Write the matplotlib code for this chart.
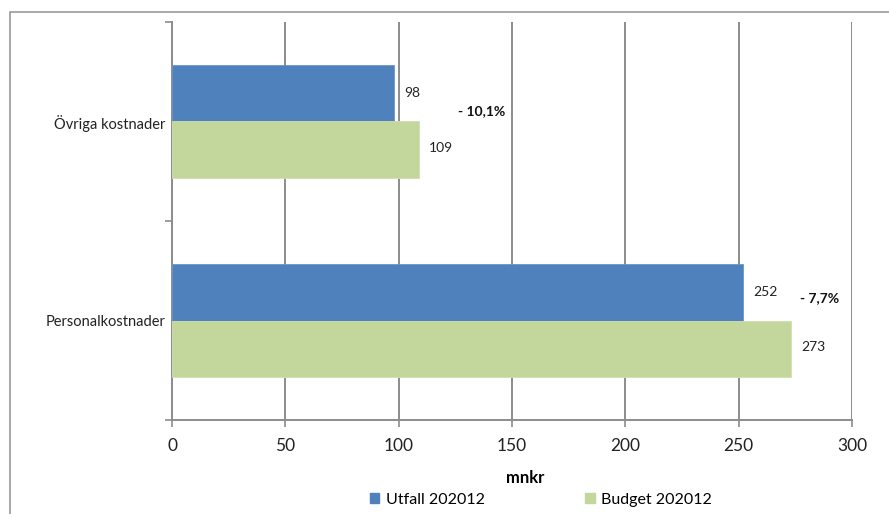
import matplotlib
matplotlib.use("Agg")
import matplotlib.pyplot as plt
from matplotlib.patches import Rectangle, Patch

plt.rcParams["font.family"] = ["Lato", "DejaVu Sans"]

# data
categories = ["Personalkostnader", "Övriga kostnader"]
utfall = [252, 98]
budget = [273, 109]
diff_labels = ["- 7,7%", "- 10,1%"]
series_names = ["Utfall 202012", "Budget 202012"]
blue, green = "#4F81BD", "#C3D69B"
grid_c = "#8C8C8C"

fig = plt.figure(figsize=(8.89, 5.14), dpi=100)
# outer chart border (cut off at right/bottom like the screenshot)
fig.patches.append(Rectangle((10 / 889, -0.1), 1.2, 1 - 12 / 514 + 0.1, transform=fig.transFigure,
                             fill=False, ec="#9A9A9A", lw=1.2))

ax = fig.add_axes([172 / 889, 1 - 420 / 514, 680 / 889, 398 / 514])
y = list(range(len(categories)))
h = 0.286
ax.barh([v + h / 2 for v in y], utfall, height=h, color=blue, ec="#6A95C9", lw=0.6, zorder=3)
ax.barh([v - h / 2 for v in y], budget, height=h, color=green, ec="#D0DFB0", lw=0.6, zorder=3)

for i in y:
    ax.text(utfall[i] + 4.5, i + h / 2, str(utfall[i]), va="center", ha="left", fontsize=10, color="#222")
    ax.text(budget[i] + 4.5, i - h / 2 + 0.01, str(budget[i]), va="center", ha="left", fontsize=10, color="#222")
# percent change labels
ax.text(126, 1 + 0.05, diff_labels[1], fontsize=10, fontweight="bold", va="center", ha="left", color="#111")
ax.text(277, 0 + 0.115, diff_labels[0], fontsize=10, fontweight="bold", va="center", ha="left", color="#111")

ax.set_xlim(0, 300)
ax.set_ylim(-0.5, len(categories) - 0.5)
ax.set_xticks(range(0, 301, 50))
ax.tick_params(axis="x", labelsize=12.5, length=5, color=grid_c, width=1.2, pad=8, labelcolor="#222")
ax.set_yticks(y)
ax.set_yticklabels(categories, fontsize=10.5, color="#222")
ax.set_yticks([-0.5, 0.5, 1.5], minor=True)
ax.tick_params(axis="y", which="major", length=0, pad=5)
ax.tick_params(axis="y", which="minor", length=5, color=grid_c, width=1.2)
ax.grid(axis="x", color=grid_c, lw=1.4, zorder=0)
for s in ["top", "right"]:
    ax.spines[s].set_visible(False)
for s in ["left", "bottom"]:
    ax.spines[s].set_color(grid_c)
    ax.spines[s].set_linewidth(1.4)
ax.set_xlabel("mnkr", fontsize=12, fontweight="bold")
ax.xaxis.set_label_coords((525 - 172) / 680, -(478 - 420) / 398)
ax.xaxis.label.set_va("center")

handles = [Patch(color=blue), Patch(color=green)]
fig.legend(handles, series_names, loc="center", bbox_to_anchor=(541 / 889, 1 - 500 / 514), ncol=2,
           frameon=False, fontsize=11.5, handlelength=0.6, handleheight=0.6, handletextpad=0.4,
           columnspacing=6.3, borderpad=0)

fig.savefig("out.png", dpi=100)
